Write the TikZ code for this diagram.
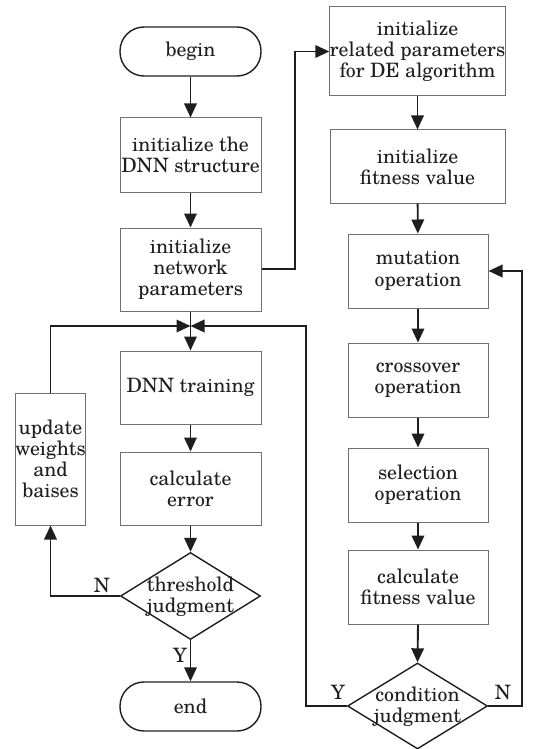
\documentclass[tikz,border=0pt]{standalone}
\usepackage{fontspec}
\setmainfont{TeX Gyre Schola}
\usetikzlibrary{arrows.meta,shapes.geometric}
\definecolor{ink}{HTML}{1E1E1E}
\definecolor{boxline}{HTML}{707070}
\tikzset{
  txt/.style={font=\fontsize{19.8}{21.2}\selectfont, text=ink, align=center, inner sep=0pt},
  procbox/.style={txt, draw=boxline, line width=1pt, rectangle},
  termbox/.style={txt, draw=ink, line width=1.4pt, rectangle, rounded corners=24pt, minimum width=141pt, minimum height=49pt},
  decision/.style={draw=ink, line width=1.4pt, diamond, inner sep=0pt},
  flow/.style={draw=ink, line width=1.9pt, -{Triangle[length=14pt,width=12.5pt]}},
  plainflow/.style={draw=ink, line width=1.9pt},
  yn/.style={font=\fontsize{19.8}{21}\selectfont, text=ink, inner sep=0pt},
}
\begin{document}
\begin{tikzpicture}[x=1pt,y=-1pt]
\useasboundingbox (0,0) rectangle (549,749);
% left column
\node[termbox] (begin) at (190.5,51.5) {begin};
\node[procbox, minimum width=141pt, minimum height=74pt] (dnn) at (190.5,155) {initialize the\\DNN structure};
\node[procbox, minimum width=141pt, minimum height=83pt] (net) at (190.5,269.5) {initialize\\network\\parameters};
\node[procbox, minimum width=141pt, minimum height=73pt] (train) at (190.5,387.5) {DNN training};
\node[procbox, minimum width=141pt, minimum height=73pt] (err) at (190.5,488.5) {calculate\\error};
\node[procbox, minimum width=69pt, minimum height=132pt] (upd) at (50.5,459) {update\\weights\\and\\baises};
\node[decision, minimum width=140pt, minimum height=87pt] (thr) at (190.5,596) {};
\node[txt] (thrtxt) at (190.5,597) {threshold\\judgment};
\node[termbox] (end) at (190.5,706.5) {end};
% right column
\node[procbox, minimum width=175pt, minimum height=89pt] (de) at (417.5,51.5) {initialize\\related parameters\\for DE algorithm};
\node[procbox, minimum width=175pt, minimum height=73pt] (fit) at (417.5,166.5) {initialize\\fitness value};
\node[procbox, minimum width=140pt, minimum height=74pt] (mut) at (418,271) {mutation\\operation};
\node[procbox, minimum width=140pt, minimum height=74pt] (cro) at (418,380) {crossover\\operation};
\node[procbox, minimum width=140pt, minimum height=74pt] (sel) at (418,485) {selection\\operation};
\node[procbox, minimum width=140pt, minimum height=74pt] (cfit) at (418,587) {calculate\\fitness value};
\node[decision, minimum width=140pt, minimum height=86pt] (cond) at (417.5,706) {};
\node[txt] (condtxt) at (417.5,707) {condition\\judgment};
% junction
\coordinate (J) at (190.5,326);
% connectors left
\draw[flow] (begin) -- (dnn);
\draw[flow] (dnn) -- (net);
\draw[plainflow] (net.south) -- (J);
\draw[flow] (J) -- (train.north);
\draw[flow] (train) -- (err);
\draw[flow] (err.south) -- (thr.north);
\draw[flow] (thr.south) -- (end.north);
\draw[flow] (thr.west) -| (upd.south);
\draw[flow] (upd.north) |- (J);
\node[yn] (lN) at (102,585) {N};
\node[yn] (lY) at (180,655) {Y};
% connectors right
\draw[flow] (net.east |- 0,269) -- (295,269) -- (295,51.5) -- (de.west);
\draw[flow] (de) -- (fit);
\draw[flow] (fit) -- (mut);
\draw[flow] (mut) -- (cro);
\draw[flow] (cro) -- (sel);
\draw[flow] (sel) -- (cfit);
\draw[flow] (cfit.south) -- (cond.north);
\draw[flow] (cond.west) -- (306,706) -- (306,326) -- (J);
\draw[flow] (cond.east) -- (522,706) -- (522,271) -- (mut.east);
\node[yn] (rY) at (338,692) {Y};
\node[yn] (rN) at (503,692) {N};
\end{tikzpicture}
\end{document}
